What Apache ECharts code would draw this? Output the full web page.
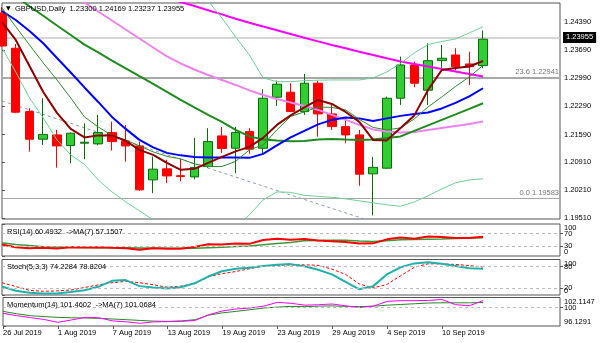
<!DOCTYPE html>
<html><head><meta charset="utf-8">
<script src="https://cdn.jsdelivr.net/npm/echarts@6.0.0/dist/echarts.min.js"></script>
<style>html,body{margin:0;padding:0;background:#fff}#c{width:600px;height:343px}</style>
</head><body><div id="c"></div>
<script>
// ---- data ----
const dates = ['26 Jul 2019','29 Jul 2019','30 Jul 2019','31 Jul 2019','1 Aug 2019','2 Aug 2019','5 Aug 2019','6 Aug 2019','7 Aug 2019','8 Aug 2019','9 Aug 2019','12 Aug 2019','13 Aug 2019','14 Aug 2019','15 Aug 2019','16 Aug 2019','19 Aug 2019','20 Aug 2019','21 Aug 2019','22 Aug 2019','23 Aug 2019','26 Aug 2019','27 Aug 2019','28 Aug 2019','29 Aug 2019','30 Aug 2019','2 Sep 2019','3 Sep 2019','4 Sep 2019','5 Sep 2019','6 Sep 2019','9 Sep 2019','10 Sep 2019','11 Sep 2019','12 Sep 2019','13 Sep 2019'];
const open  = [1.24606,1.23730,1.22158,1.21473,1.21580,1.21315,1.21374,1.21357,1.21638,1.21431,1.21307,1.20464,1.20737,1.20568,1.20538,1.20794,1.21555,1.21250,1.21662,1.21250,1.22515,1.22639,1.22158,1.22862,1.22101,1.21786,1.21580,1.20613,1.20754,1.22490,1.23316,1.22689,1.23423,1.23564,1.23341,1.23300];
const close = [1.23787,1.22143,1.21473,1.21592,1.21307,1.21622,1.21398,1.21638,1.21414,1.21307,1.20216,1.20730,1.20562,1.20548,1.20774,1.21414,1.21243,1.21642,1.21225,1.22490,1.22838,1.22158,1.22862,1.22101,1.21786,1.21580,1.20605,1.20774,1.22490,1.23316,1.22862,1.23423,1.23482,1.23274,1.23274,1.23955];
const low   = [1.23760,1.22118,1.21166,1.21332,1.20769,1.20878,1.20977,1.21320,1.21191,1.20918,1.20191,1.20134,1.20382,1.20427,1.20476,1.20764,1.21134,1.20630,1.21109,1.21084,1.22300,1.22150,1.22076,1.21538,1.21704,1.21374,1.20318,1.19583,1.20737,1.22324,1.22763,1.22324,1.23192,1.23175,1.22820,1.23237];
const high  = [1.24750,1.23837,1.22242,1.22490,1.21704,1.21640,1.21870,1.22076,1.21910,1.21828,1.21414,1.21042,1.20960,1.20977,1.21506,1.21746,1.21778,1.21778,1.21746,1.22713,1.22927,1.22862,1.23093,1.22919,1.22324,1.21994,1.21704,1.21034,1.22530,1.23522,1.23398,1.23854,1.23812,1.23730,1.23646,1.24169];

const ma5  = [1.24382,1.23936,1.23291,1.22646,1.22126,1.21729,1.21518,1.21568,1.21568,1.21431,1.21208,1.21084,1.20886,1.20712,1.20737,1.20886,1.21034,1.21171,1.21282,1.21506,1.21828,1.22064,1.22262,1.22448,1.22349,1.22150,1.21902,1.21456,1.21444,1.21754,1.22064,1.22696,1.23192,1.23242,1.23279,1.23415];
const ma10 = [1.24730,1.24266,1.23812,1.23366,1.22944,1.22498,1.22026,1.21778,1.21568,1.21456,1.21307,1.21158,1.21047,1.20985,1.20861,1.20794,1.20794,1.20923,1.21208,1.21332,1.21704,1.22039,1.22150,1.22274,1.22262,1.22200,1.21964,1.21766,1.21704,1.21754,1.21977,1.22274,1.22522,1.22783,1.23020,1.23304];
const ma20 = [1.24655,1.24432,1.24159,1.23854,1.23490,1.23130,1.22758,1.22398,1.22026,1.21729,1.21456,1.21270,1.21134,1.21072,1.21034,1.21022,1.21022,1.21022,1.21010,1.21109,1.21320,1.21518,1.21679,1.21840,1.21952,1.22014,1.21990,1.21927,1.21990,1.22052,1.22101,1.22138,1.22237,1.22374,1.22535,1.22738];
const ma55 = [1.25250,1.25015,1.24774,1.24536,1.24296,1.24060,1.23822,1.23626,1.23424,1.23234,1.23036,1.22845,1.22646,1.22448,1.22262,1.22076,1.21902,1.21704,1.21543,1.21468,1.21444,1.21424,1.21431,1.21468,1.21481,1.21468,1.21456,1.21468,1.21504,1.21543,1.21680,1.21816,1.21952,1.22088,1.22225,1.22366];
const ma100 = [null,null,null,null,null,1.25015,1.24866,1.24643,1.24420,1.24196,1.23973,1.23750,1.23527,1.23353,1.23204,1.23068,1.22944,1.22820,1.22684,1.22572,1.22473,1.22386,1.22299,1.22200,1.22076,1.21952,1.21828,1.21716,1.21667,1.21642,1.21654,1.21704,1.21754,1.21803,1.21853,1.21910];
const ma200 = [null,null,null,null,null,null,null,null,null,null,null,null,1.24985,1.24878,1.24779,1.24675,1.24571,1.24464,1.24363,1.24271,1.24179,1.24085,1.23993,1.23901,1.23812,1.23730,1.23646,1.23564,1.23482,1.23403,1.23341,1.23279,1.23217,1.23154,1.23093,1.23031];
const bbUpper = [null,null,null,null,null,null,null,null,null,null,null,null,null,null,1.25275,1.24903,1.24482,1.24010,1.23564,1.22994,1.22902,1.22902,1.22927,1.22937,1.22944,1.22944,1.22944,1.22994,1.23142,1.23353,1.23614,1.23824,1.23899,1.23961,1.24110,1.24266];
const bbLower = [1.23738,1.23142,1.22498,1.22002,1.21456,1.21084,1.20848,1.20464,1.20166,1.19918,1.19695,1.19472,1.19274,1.19125,1.19026,1.18976,1.19075,1.19274,1.19596,1.19968,1.20166,1.20154,1.20080,1.20055,1.20030,1.19993,1.19943,1.19894,1.19844,1.19807,1.19918,1.20067,1.20241,1.20390,1.20464,1.20489];

const trendX = [0, 27];
const trendY = [1.22423, 1.19422];
const fibLevels = [{name:'23.6', value:1.22941}, {name:'0.0', value:1.19583}];

const rsi   = [35.9,27.4,24.6,26,23.5,27,26.5,27.5,25.5,24,19.5,24,22.5,22.5,28,37,36,39,38,50,54,51,53,48.5,46,44,39,39.5,52,58,54,61,59,56.5,56,60.4932];
const rsiMa = [41.7,36,32.5,29,28,27,26.5,26,26,26,25,25,24.5,24,24,26,27.5,29.5,31.5,35,39,42,47.5,48.5,49.5,49.5,47,45,48,50.5,51.5,52.5,53.5,55,56,57.1507];
const stochK = [24,12,6.5,4.5,4.5,8.5,13.5,23,40,42,25,21,18.5,22,33,52,67,74,77,82,85,87,81,71,58,37,16,25,58,78,89,92.5,88,82,75.5,74.2284];
const stochD = [34.6,24,13,10.5,11.5,14,21,28.5,34.5,38.5,34.5,29,22,25,31,51,60,66,74,81,83.5,84.5,85,83.5,73,58,31,20,29.7,54,78,87.8,87.8,86,83,78.8204];
const mom   = [98.8,98.3,97.9,97.5,96.9,97.4,97.95,97.85,97.2,97.0,96.7,97.0,97.05,97.1,97.3,98.5,99.3,99.7,99.9,100.3,101.1,100.9,100.5,100.6,100.75,100.35,100.0,100.3,101.3,101.45,101.45,101.5,101.7,100.6,100.4,101.4602];
const momMa = [99.2,98.7,98.3,98.1,97.95,97.85,97.8,97.75,97.6,97.45,97.3,97.15,97.1,97.2,97.45,98.4,98.9,99.2,99.55,99.9,100.1,100.25,100.2,100.3,100.35,100.25,100.2,100.3,100.5,100.65,100.8,100.95,101.0,101.0,101.0,101.0684];

const priceTicks = [1.1951,1.2021,1.2091,1.2159,1.2229,1.2299,1.2369,1.2439];
const rsiBounds = [0,100];
const rsiLevels = [30,70];
const stochBounds = [0,100];
const stochLevels = [20,80];
const momBounds = [96.1291,102.1147];
const momLevels = [100];
const dateTicks = [0,4,8,12,16,20,24,28,32];

// ---- chart ----
const FONT = 'Liberation Sans';
const FS = 7.5;
const chart = echarts.init(document.getElementById('c'), null, {renderer:'canvas'});
const xy = arr => arr.map((v,i)=>[i, v]);
const N_MAX = 40.6;

const gridBase = {left:2, right:40, show:true, borderColor:'#555', borderWidth:1, backgroundColor:'rgba(0,0,0,0)'};
const grids = [
  Object.assign({top:3, height:216}, gridBase),
  Object.assign({top:224, height:32}, gridBase),
  Object.assign({top:259.5, height:35.5}, gridBase),
  Object.assign({top:297.5, height:28.5}, gridBase)
];
const xAxes = grids.map((g,i)=>({
  type:'value', gridIndex:i, min:0, max:N_MAX,
  axisLine:{show:false}, splitLine:{show:false},
  axisTick: i===3 ? {show:true, customValues:dateTicks, length:3, lineStyle:{color:'#555'}} : {show:false},
  axisLabel: i===3 ? {show:true, customValues:dateTicks, formatter:v=>dates[v]||'', align:'left', margin:3, fontSize:FS, fontFamily:FONT, color:'#000'} : {show:false}
}));
// edge=true: labels at panel top/bottom are pulled inside the panel (MT4 style)
function yAx(gi, min, max, ticks, fmt, edge){
  const lab = {show:true, customValues:ticks, formatter:fmt, margin:4, fontSize:FS, fontFamily:FONT, color:'#000',
      showMinLabel:true, showMaxLabel:true};
  if (edge) { lab.verticalAlignMaxLabel = 'top'; lab.verticalAlignMinLabel = 'bottom'; }
  return {type:'value', gridIndex:gi, position:'right', min:min, max:max,
    axisLine:{show:false}, splitLine:{show:false},
    axisTick:{show:true, customValues:ticks, length:3, lineStyle:{color:'#555'}},
    axisLabel:lab};
}
const momFmt = v => v===100 ? '100' : v.toFixed(4);
const yAxes = [
  yAx(0, 1.194926, 1.248538, priceTicks, v=>v.toFixed(5), false), // 0
  yAx(1, 0, 100, rsiBounds, v=>String(v), true),                 // 1
  yAx(1, 0, 100, rsiLevels, v=>String(v), false),                // 2
  yAx(2, 0, 100, stochBounds, v=>String(v), true),               // 3
  yAx(2, 0, 100, stochLevels, v=>String(v), false),              // 4
  yAx(3, momBounds[0], momBounds[1], momBounds, momFmt, true),   // 5
  yAx(3, momBounds[0], momBounds[1], momLevels, momFmt, false)   // 6
];
const yIdx = [0,1,3,5];

function line(name, data, color, width, gi, extra){
  return Object.assign({type:'line', name:name, xAxisIndex:gi, yAxisIndex:yIdx[gi], data:xy(data), showSymbol:false, symbol:'none',
    lineStyle:{color:color, width:width}, clip:true, silent:true, z:3, connectNulls:false}, extra||{});
}
const levelMark = (levels) => ({symbol:'none', silent:true, label:{show:false},
  lineStyle:{color:'#bbb', type:[3,3], width:1}, data: levels.map(v=>({yAxis:v}))});

const candleData = dates.map((d,i)=>[i, open[i], close[i], low[i], high[i]]);
const last = close[close.length-1];

const option = {
  animation:false,
  backgroundColor:'#fff',
  grid: grids,
  xAxis: xAxes,
  yAxis: yAxes,
  series: [
    {type:'candlestick', name:'GBPUSD', xAxisIndex:0, yAxisIndex:0, data:candleData, encode:{x:0, y:[1,2,3,4]},
     barWidth:9, clip:true, z:2,
     itemStyle:{color:'#32CD32', color0:'#FF0000', borderColor:'#0b6b0b', borderColor0:'#FF0000', borderWidth:1},
     markLine:{symbol:'none', silent:true, z:1, data:[
       {yAxis:last, lineStyle:{color:'#c8c8c8', width:1.5, type:'solid'},
        label:{show:true, position:'end', distance:3, formatter:()=>last.toFixed(5), backgroundColor:'#000', color:'#fff', fontSize:FS, fontFamily:FONT, padding:[2,3,1,3]}},
       ...fibLevels.map(f=>({yAxis:f.value, lineStyle:{color:'#a8a8a8', width:f.name==='23.6'?2:1, type:'solid'},
        label:{show:true, position:'insideEndTop', distance:[1,2], formatter:()=>f.name+' '+f.value.toFixed(5), color:'#777', fontSize:FS, fontFamily:FONT}}))
     ]}},
    line('trend', [], '#8a9ab5', 1, 0, {data: trendX.map((x,k)=>[x, trendY[k]]), lineStyle:{color:'#8a9ab5', width:1, type:[3,3]}, z:2}),
    line('MA200', ma200, '#FF00FF', 2, 0),
    line('MA100', ma100, '#EE82EE', 2, 0),
    line('MA55', ma55, '#1E8B1E', 2, 0),
    line('BBupper', bbUpper, '#6fcf97', 1, 0),
    line('BBlower', bbLower, '#6fcf97', 1, 0),
    line('MA20', ma20, '#0000FF', 2, 0),
    line('MA10', ma10, '#2E8B2E', 1, 0),
    line('MA5', ma5, '#8B0000', 2, 0),
    line('RSI MA', rsiMa, '#3a9a3a', 1.5, 1, {markLine: levelMark(rsiLevels)}),
    line('RSI', rsi, '#FF0000', 2, 1),
    line('Stoch D', stochD, '#FF0000', 1, 2, {lineStyle:{color:'#FF0000', width:1, type:[3,2]}, markLine: levelMark(stochLevels)}),
    line('Stoch K', stochK, '#20B2AA', 2, 2),
    line('Mom MA', momMa, '#228B22', 1, 3, {markLine: levelMark(momLevels)}),
    line('Momentum', mom, '#FF00FF', 1, 3)
  ],
  graphic: [
    {type:'text', left:6, top:5, z:10, style:{text:'\u25BC', font:'6px "DejaVu Sans"', fill:'#000'}},
    {type:'text', left:15, top:4.5, z:10, style:{text:'GBPUSD,Daily  ' + [open[35],high[35],low[35],close[35]].map(v=>v.toFixed(5)).join(' '), font:FS+'px "'+FONT+'"', fill:'#000'}},
    {type:'text', left:7, top:227.5, z:10, style:{text:'RSI(14) '+rsi[35].toFixed(4)+'  ->MA(7) '+rsiMa[35].toFixed(4), font:FS+'px "'+FONT+'"', fill:'#000'}},
    {type:'text', left:7, top:263, z:10, style:{text:'Stoch(5,3,3) '+stochK[35].toFixed(4)+' '+stochD[35].toFixed(4), font:FS+'px "'+FONT+'"', fill:'#000'}},
    {type:'text', left:7, top:301, z:10, style:{text:'Momentum(14) '+mom[35].toFixed(4)+'  ->MA(7) '+momMa[35].toFixed(4), font:FS+'px "'+FONT+'"', fill:'#000'}}
  ]
};
chart.setOption(option);
</script></body></html>
